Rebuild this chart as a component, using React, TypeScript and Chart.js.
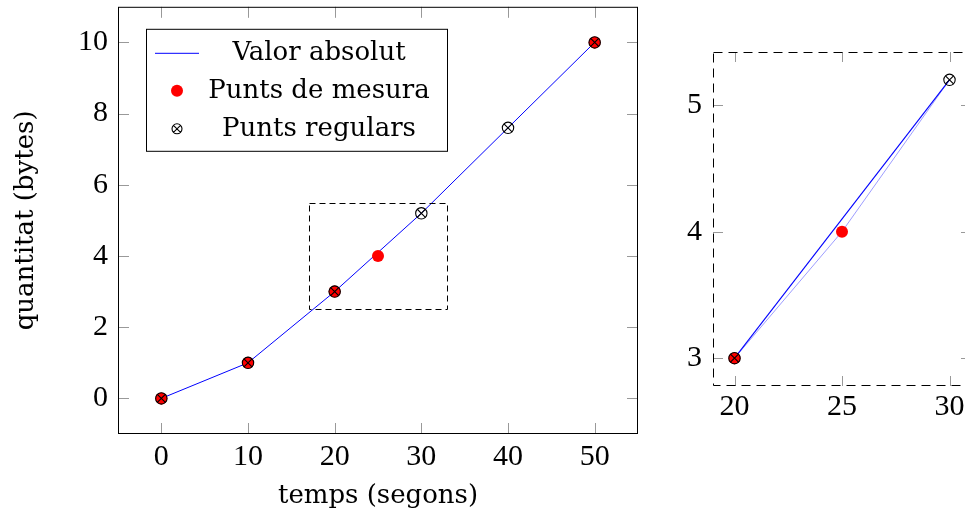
import React, { useEffect, useRef } from "react";
import { Chart, registerables } from "chart.js";

Chart.register(...registerables);

// ---- data ----
const regularX = [0, 10, 20, 30, 40, 50];
const regularY = [0, 1, 3, 5.2, 7.6, 10];
const measureX = [0, 10, 20, 25, 50];
const measureY = [0, 1, 3, 4, 10];
const xTicks = [0, 10, 20, 30, 40, 50];
const yTicks = [0, 2, 4, 6, 8, 10];
const mainXRange = [-5, 55];
const mainYRange = [-1, 11];
const zoomXRange = [17, 33];
const zoomYRange = [2.5, 5.5];
const insetDataRange = [20, 30];
const insetXRange = [19, 31];
const insetYRange = [2.78, 5.42];
const insetXTicks = [20, 25, 30];
const insetYTicks = [3, 4, 5];
const seriesLabels = ["Valor absolut", "Punts de mesura", "Punts regulars"];
const xTitle = "temps (segons)";
const yTitle = "quantitat (bytes)";

const NUM_FONT = "'Liberation Serif', serif";
const TXT_FONT = "'DejaVu Serif', serif";
const BLUE = "#0000ff";
const LIGHT_BLUE = "#9d9dff";
const RED = "#ff0000";
const TICK_GREY = "#999999";
const MARK_R = 6;

type P = { x: number; y: number };
const pts = (xs: number[], ys: number[]): P[] => xs.map((x, i) => ({ x, y: ys[i] }));
const inInset = (p: P) => p.x >= insetDataRange[0] && p.x <= insetDataRange[1];

function framePlugin(opts: { dash: number[]; tickLen: number; xt: number[]; yt: number[] }) {
  return {
    id: "frame",
    afterDraw(chart: any) {
      const { ctx, chartArea } = chart;
      const { left, right, top, bottom } = chartArea;
      const xs = chart.scales.x;
      const ys = chart.scales.y;
      ctx.save();
      ctx.strokeStyle = TICK_GREY;
      ctx.lineWidth = 1;
      ctx.beginPath();
      for (const v of opts.xt) {
        const px = Math.round(xs.getPixelForValue(v)) + 0.5;
        ctx.moveTo(px, top);
        ctx.lineTo(px, top + opts.tickLen);
        ctx.moveTo(px, bottom);
        ctx.lineTo(px, bottom - opts.tickLen);
      }
      for (const v of opts.yt) {
        const py = Math.round(ys.getPixelForValue(v)) + 0.5;
        ctx.moveTo(left, py);
        ctx.lineTo(left + opts.tickLen, py);
        ctx.moveTo(right, py);
        ctx.lineTo(right - opts.tickLen, py);
      }
      ctx.stroke();
      ctx.strokeStyle = "#000";
      ctx.setLineDash(opts.dash);
      ctx.strokeRect(left + 0.5, top + 0.5, right - left - 1, bottom - top - 1);
      ctx.restore();
    },
  };
}

const zoomBoxPlugin = {
  id: "zoomBox",
  afterDatasetsDraw(chart: any) {
    const { ctx } = chart;
    const xs = chart.scales.x;
    const ys = chart.scales.y;
    const x0 = Math.round(xs.getPixelForValue(zoomXRange[0])) + 0.5;
    const x1 = Math.round(xs.getPixelForValue(zoomXRange[1])) + 0.5;
    const y0 = Math.round(ys.getPixelForValue(zoomYRange[1])) + 0.5;
    const y1 = Math.round(ys.getPixelForValue(zoomYRange[0])) + 0.5;
    ctx.save();
    ctx.strokeStyle = "#000";
    ctx.lineWidth = 1;
    ctx.setLineDash([6, 4]);
    ctx.strokeRect(x0, y0, x1 - x0, y1 - y0);
    ctx.restore();
  },
};

const legendPlugin = {
  id: "legendBox",
  afterDraw(chart: any) {
    const { ctx, chartArea } = chart;
    const bx = chartArea.left + 28;
    const by = chartArea.top + 22;
    const bw = 301;
    const bh = 122;
    ctx.save();
    ctx.fillStyle = "#fff";
    ctx.fillRect(bx, by, bw, bh);
    ctx.strokeStyle = "#000";
    ctx.lineWidth = 1;
    ctx.strokeRect(bx + 0.5, by + 0.5, bw, bh);
    const rows = [by + 24, by + 62, by + 100];
    const sx = bx + 31;
    ctx.strokeStyle = BLUE;
    ctx.beginPath();
    ctx.moveTo(bx + 9, rows[0] + 0.5);
    ctx.lineTo(bx + 53, rows[0] + 0.5);
    ctx.stroke();
    ctx.fillStyle = RED;
    ctx.beginPath();
    ctx.arc(sx, rows[1], 6, 0, Math.PI * 2);
    ctx.fill();
    // otimes symbol
    const r = 5;
    const d = r * Math.SQRT1_2;
    ctx.strokeStyle = "#000";
    ctx.lineWidth = 1.1;
    ctx.beginPath();
    ctx.arc(sx, rows[2], r, 0, Math.PI * 2);
    ctx.moveTo(sx - d, rows[2] - d);
    ctx.lineTo(sx + d, rows[2] + d);
    ctx.moveTo(sx - d, rows[2] + d);
    ctx.lineTo(sx + d, rows[2] - d);
    ctx.stroke();
    ctx.fillStyle = "#000";
    ctx.font = `26px ${TXT_FONT}`;
    ctx.textAlign = "center";
    ctx.textBaseline = "middle";
    seriesLabels.forEach((t, i) => ctx.fillText(t, bx + 173, rows[i]));
    ctx.restore();
  },
};

function axisCfg(
  range: number[],
  ticks: number[],
  size: { width?: number; height?: number },
  padding: number,
  title?: { text: string; padding: any }
) {
  return {
    type: "linear",
    min: range[0],
    max: range[1],
    afterBuildTicks: (s: any) => {
      s.ticks = ticks.map((v) => ({ value: v }));
    },
    afterFit: (s: any) => {
      if (size.width !== undefined) s.width = size.width;
      if (size.height !== undefined) s.height = size.height;
      s.paddingTop = 0;
      s.paddingBottom = 0;
      s.paddingLeft = 0;
      s.paddingRight = 0;
    },
    grid: { display: false, drawTicks: false },
    border: { display: false },
    ticks: {
      font: { family: NUM_FONT, size: 30 },
      color: "#000",
      padding,
      autoSkip: false,
      maxRotation: 0,
      minRotation: 0,
    },
    title: title
      ? {
          display: true,
          text: title.text,
          color: "#000",
          font: { family: TXT_FONT, size: 26 },
          padding: title.padding,
        }
      : { display: false },
  };
}

function markerSets(measure: P[], regular: P[]) {
  return [
    {
      label: seriesLabels[1],
      data: measure,
      backgroundColor: RED,
      borderWidth: 0,
      pointRadius: MARK_R,
      pointStyle: "circle",
      order: 3,
    },
    {
      label: seriesLabels[2],
      data: regular,
      backgroundColor: "rgba(0,0,0,0)",
      borderColor: "#000",
      borderWidth: 1.1,
      pointRadius: MARK_R - 0.3,
      pointStyle: "circle",
      order: 2,
    },
    {
      label: seriesLabels[2] + " (x)",
      data: regular,
      borderColor: "#000",
      borderWidth: 1.1,
      pointRadius: MARK_R - 0.3,
      pointStyle: "crossRot",
      order: 1,
    },
  ];
}

const baseOptions = (padding: any, scales: any) => ({
  animation: false,
  responsive: false,
  events: [],
  layout: { padding },
  plugins: { legend: { display: false }, tooltip: { enabled: false } },
  scales,
});

export default function App() {
  const mainRef = useRef<HTMLCanvasElement>(null);
  const insetRef = useRef<HTMLCanvasElement>(null);

  useEffect(() => {
    const regular = pts(regularX, regularY);
    const measure = pts(measureX, measureY);

    const main = new Chart(mainRef.current as HTMLCanvasElement, {
      type: "scatter",
      data: {
        datasets: [
          {
            label: seriesLabels[0],
            data: regular,
            showLine: true,
            borderColor: BLUE,
            borderWidth: 1,
            pointRadius: 0,
            order: 5,
          },
          ...markerSets(measure, regular),
        ],
      } as any,
      options: baseOptions(
        { left: 0, top: 4, right: 22, bottom: 0 },
        {
          x: axisCfg(mainXRange, xTicks, { height: 83 }, 5, {
            text: xTitle,
            padding: { top: 0, bottom: 5 },
          }),
          y: axisCfg(mainYRange, yTicks, { width: 118 }, 10, {
            text: yTitle,
            padding: { top: 11, bottom: 0 },
          }),
        }
      ) as any,
      plugins: [
        framePlugin({ dash: [], tickLen: 11, xt: xTicks, yt: yTicks }),
        zoomBoxPlugin,
        legendPlugin,
      ],
    });

    const insetRegular = regular.filter(inInset);
    const insetMeasure = measure.filter(inInset);
    const merged: P[] = [];
    [...insetMeasure, ...insetRegular]
      .sort((a, b) => a.x - b.x)
      .forEach((p) => {
        if (!merged.some((q) => q.x === p.x)) merged.push(p);
      });

    const inset = new Chart(insetRef.current as HTMLCanvasElement, {
      type: "scatter",
      data: {
        datasets: [
          {
            label: "interp",
            data: merged,
            showLine: true,
            borderColor: LIGHT_BLUE,
            borderWidth: 1,
            pointRadius: 0,
            order: 6,
          },
          {
            label: seriesLabels[0],
            data: insetRegular,
            showLine: true,
            borderColor: BLUE,
            borderWidth: 1.1,
            pointRadius: 0,
            order: 5,
          },
          ...markerSets(insetMeasure, insetRegular),
        ],
      } as any,
      options: baseOptions(
        { left: 0, top: 52, right: 9, bottom: 0 },
        {
          x: axisCfg(insetXRange, insetXTicks, { height: 131 }, 3),
          y: axisCfg(insetYRange, insetYTicks, { width: 53 }, 11),
        }
      ) as any,
      plugins: [framePlugin({ dash: [9, 6], tickLen: 10, xt: insetXTicks, yt: insetYTicks })],
    });

    return () => {
      main.destroy();
      inset.destroy();
    };
  }, []);

  return (
    <div
      style={{
        position: "fixed",
        left: 0,
        top: 0,
        width: 965,
        height: 517,
        overflow: "hidden",
        background: "#fff",
      }}
    >
      <canvas
        ref={mainRef}
        width={660}
        height={517}
        style={{ position: "absolute", left: 0, top: 0, width: 660, height: 517 }}
      />
      <canvas
        ref={insetRef}
        width={320}
        height={517}
        style={{ position: "absolute", left: 660, top: 0, width: 320, height: 517 }}
      />
    </div>
  );
}
